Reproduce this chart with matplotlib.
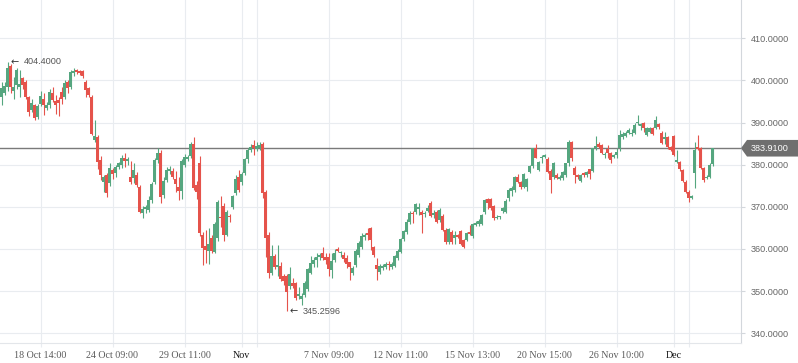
import numpy as np
import matplotlib.pyplot as plt
from matplotlib.patches import Polygon
from matplotlib.transforms import blended_transform_factory

# hourly candles
open_ = [
    396.0, 397.0, 398.4, 403.4, 397.5, 398.9, 398.5, 400.5, 399.6, 396.0,
    393.0, 394.1, 391.4, 394.4, 395.7, 393.4, 394.1, 397.0, 395.2, 395.3,
    397.3, 396.1, 399.6, 398.5, 401.7, 402.4, 402.2, 402.3, 399.6, 398.2,
    396.1, 385.9, 386.5, 381.1, 376.0, 377.5, 375.6, 378.8, 378.1, 379.5,
    379.9, 381.6, 380.8, 377.0, 376.8, 377.5, 374.8, 368.6, 369.4, 369.2,
    371.6, 376.0, 381.1, 382.8, 372.8, 376.4, 378.4, 378.6, 376.5, 374.8,
    373.8, 380.0, 381.4, 382.0, 384.9, 375.2, 380.5, 363.3, 360.6, 359.6,
    362.7, 359.4, 362.5, 367.6, 370.2, 363.3, 367.8, 369.9, 373.3, 377.1,
    375.9, 378.1, 381.3, 383.5, 384.7, 383.7, 384.0, 384.9, 373.6, 363.3,
    354.2, 358.3, 355.7, 356.0, 353.5, 353.6, 351.2, 351.9, 351.9, 348.8,
    348.1, 349.1, 350.4, 354.4, 356.5, 357.5, 358.0, 359.1, 358.0, 358.2,
    355.0, 357.4, 360.0, 359.0, 358.6, 357.8, 356.8, 354.4, 356.3, 358.6,
    360.4, 362.8, 363.9, 364.9, 360.4, 356.2, 354.6, 355.6, 355.7, 356.5,
    355.8, 356.0, 357.8, 359.4, 362.3, 364.1, 366.5, 368.6, 368.8, 369.5,
    368.8, 368.2, 369.0, 371.0, 368.0, 368.8, 366.9, 367.8, 364.5, 361.7,
    364.0, 362.6, 363.3, 364.3, 362.1, 362.1, 364.0, 363.0, 365.8, 365.9,
    366.0, 368.8, 371.8, 371.8, 370.2, 367.3, 367.5, 368.9, 368.8, 372.0,
    373.8, 374.0, 377.1, 375.9, 374.8, 374.6, 378.3, 379.7, 383.9, 378.8,
    381.6, 381.8, 381.3, 378.5, 377.0, 377.6, 376.7, 376.8, 377.6, 380.3,
    385.4, 379.3, 377.5, 376.2, 378.0, 377.5, 378.9, 378.6, 383.9, 384.9,
    384.6, 382.2, 383.7, 382.8, 381.9, 382.3, 383.9, 386.5, 386.8, 387.6,
    387.3, 387.6, 390.0, 389.2, 389.8, 387.0, 387.8, 388.6, 388.8, 389.6,
    387.6, 386.2, 386.5, 384.2, 386.8, 380.7, 380.7, 378.7, 376.0, 373.6,
    372.1, 378.1, 384.2, 383.9, 379.2, 376.9, 377.1, 380.2,
]
high = [
    399.6, 399.6, 404.4, 404.0, 400.8, 403.0, 402.4, 400.9, 400.0, 396.3,
    395.5, 394.5, 394.5, 397.5, 397.0, 395.0, 398.0, 398.5, 396.5, 396.0,
    398.5, 400.0, 400.2, 402.5, 402.9, 402.6, 402.5, 402.5, 400.0, 398.5,
    396.5, 390.6, 387.0, 382.0, 377.6, 378.0, 380.5, 379.2, 380.0, 380.7,
    382.2, 382.7, 381.8, 381.0, 380.3, 378.2, 375.2, 370.3, 370.5, 372.5,
    376.0, 381.5, 383.9, 383.5, 377.0, 379.5, 379.8, 379.3, 378.5, 377.0,
    381.3, 382.5, 382.2, 385.4, 386.6, 376.2, 382.0, 364.0, 364.5, 365.0,
    363.3, 366.5, 371.6, 372.6, 371.0, 369.2, 368.2, 372.8, 377.5, 378.7,
    378.2, 381.5, 384.0, 385.0, 385.8, 385.5, 385.5, 385.3, 374.0, 364.0,
    361.0, 358.8, 361.0, 357.0, 354.0, 354.0, 355.8, 353.0, 352.2, 351.0,
    349.5, 352.5, 355.5, 358.3, 358.0, 359.1, 359.0, 360.5, 359.0, 359.0,
    359.0, 360.0, 360.5, 359.5, 359.2, 358.5, 357.0, 356.0, 360.0, 362.0,
    363.8, 363.8, 364.9, 365.3, 360.8, 357.8, 356.5, 356.4, 356.8, 357.2,
    357.0, 358.5, 360.0, 362.5, 364.5, 367.0, 369.0, 368.9, 371.0, 370.8,
    369.3, 369.1, 370.5, 371.5, 369.2, 369.2, 369.8, 368.2, 365.0, 365.0,
    364.5, 364.3, 363.6, 364.6, 362.4, 364.0, 365.8, 366.2, 366.6, 367.0,
    368.3, 371.8, 372.0, 372.0, 370.5, 368.0, 367.9, 370.0, 371.8, 374.5,
    375.0, 377.3, 377.8, 376.2, 378.0, 376.8, 380.0, 384.0, 384.9, 381.0,
    382.3, 382.5, 381.8, 379.0, 380.6, 378.0, 377.6, 378.5, 380.5, 385.8,
    385.7, 379.6, 377.8, 377.8, 378.3, 378.6, 379.0, 384.0, 386.8, 385.3,
    385.0, 383.0, 384.6, 383.0, 382.6, 383.9, 388.3, 387.8, 388.0, 388.6,
    388.4, 389.8, 391.8, 389.8, 390.1, 389.0, 389.0, 389.0, 391.5, 390.0,
    388.0, 387.8, 386.8, 384.5, 387.0, 383.5, 381.0, 379.0, 376.3, 374.0,
    372.8, 385.4, 387.0, 384.2, 379.5, 377.5, 380.3, 384.0,
]
low = [
    394.1, 396.5, 397.5, 397.0, 395.7, 398.0, 396.0, 398.0, 395.5, 391.5,
    392.5, 390.5, 390.8, 394.0, 391.8, 392.9, 393.5, 394.8, 392.0, 391.5,
    394.5, 395.5, 397.0, 398.0, 401.0, 401.5, 401.3, 400.5, 396.0, 396.0,
    387.0, 385.3, 379.0, 376.4, 373.5, 372.3, 375.0, 376.5, 377.0, 379.0,
    379.2, 379.5, 380.0, 375.5, 375.6, 374.7, 368.5, 367.3, 368.5, 368.8,
    371.0, 375.5, 380.5, 370.9, 372.0, 376.0, 377.8, 376.7, 373.5, 371.6,
    371.8, 379.5, 381.0, 381.5, 374.0, 371.8, 363.0, 356.2, 356.7, 356.5,
    359.0, 359.0, 362.0, 365.3, 362.0, 363.0, 366.5, 369.5, 372.8, 373.5,
    375.2, 377.5, 380.5, 383.0, 382.3, 383.3, 383.5, 372.0, 358.0, 353.0,
    353.8, 355.2, 353.5, 352.5, 351.5, 345.2596, 350.5, 350.8, 347.8, 348.2,
    346.7, 348.5, 350.0, 354.0, 355.8, 355.8, 357.5, 357.5, 356.5, 353.5,
    353.1, 357.0, 359.3, 358.2, 357.0, 355.5, 352.7, 353.8, 355.8, 358.0,
    360.0, 362.2, 362.1, 359.8, 358.2, 352.7, 354.0, 354.9, 355.3, 355.0,
    355.3, 355.8, 357.5, 359.0, 361.8, 363.5, 366.0, 366.1, 368.3, 368.1,
    363.8, 367.5, 368.8, 367.5, 367.4, 366.2, 366.5, 364.3, 361.3, 361.2,
    361.2, 361.3, 362.5, 361.0, 360.2, 361.8, 363.4, 362.6, 365.5, 365.5,
    365.7, 368.4, 369.5, 369.2, 366.8, 367.0, 367.2, 368.5, 368.5, 371.5,
    372.5, 373.5, 375.6, 374.3, 374.5, 373.8, 378.0, 379.3, 381.5, 378.5,
    380.4, 381.5, 378.0, 373.3, 376.5, 376.6, 376.3, 376.4, 377.2, 379.8,
    381.0, 375.7, 376.5, 375.9, 377.2, 377.0, 376.5, 378.2, 383.5, 384.0,
    382.5, 381.5, 381.5, 380.5, 381.5, 381.5, 383.3, 386.0, 386.5, 387.3,
    386.8, 387.2, 389.5, 388.2, 387.8, 386.8, 387.6, 387.0, 388.4, 388.5,
    384.8, 385.0, 383.8, 383.2, 382.0, 380.5, 378.5, 375.8, 373.2, 371.2,
    371.8, 374.4, 383.5, 379.0, 376.0, 376.5, 376.8, 379.8,
]
close = [
    398.1, 398.6, 402.9, 398.5, 398.5, 402.4, 399.2, 398.8, 396.1, 392.5,
    394.6, 391.0, 393.9, 396.3, 394.1, 394.1, 397.3, 395.3, 394.2, 394.6,
    395.7, 399.3, 398.2, 402.0, 402.3, 402.0, 401.8, 401.0, 397.8, 396.5,
    387.4, 386.8, 380.6, 377.5, 377.0, 373.2, 379.2, 377.8, 379.5, 380.3,
    381.5, 380.8, 381.4, 375.8, 378.7, 375.2, 368.8, 369.5, 370.0, 371.6,
    375.4, 381.1, 382.8, 372.4, 376.1, 378.7, 379.0, 377.1, 375.4, 373.8,
    381.0, 381.8, 381.8, 384.9, 374.4, 373.6, 363.7, 360.2, 359.8, 361.2,
    359.6, 366.0, 371.2, 367.3, 363.3, 368.8, 367.5, 372.6, 376.5, 374.1,
    377.7, 381.3, 383.5, 384.2, 383.9, 384.4, 384.6, 373.2, 362.7, 354.2,
    358.3, 355.7, 356.3, 352.8, 352.3, 349.9, 354.1, 351.2, 348.3, 349.3,
    348.9, 351.9, 355.2, 356.6, 357.4, 358.0, 358.6, 357.8, 357.4, 355.2,
    357.2, 359.1, 359.6, 359.4, 357.6, 356.4, 355.8, 355.4, 359.5, 361.4,
    363.1, 363.3, 363.3, 362.2, 358.6, 355.2, 356.0, 356.0, 356.4, 356.2,
    356.5, 358.3, 359.6, 362.3, 364.3, 366.5, 368.6, 368.3, 370.6, 369.9,
    368.0, 368.6, 369.8, 367.8, 368.6, 366.5, 369.2, 364.5, 361.7, 364.7,
    361.7, 363.4, 362.8, 361.2, 360.4, 363.7, 363.6, 365.9, 366.2, 366.7,
    368.0, 371.6, 370.8, 369.7, 367.3, 367.7, 367.7, 369.7, 371.4, 374.1,
    374.4, 377.1, 375.9, 374.6, 377.8, 376.5, 379.7, 383.9, 381.7, 380.6,
    381.9, 382.2, 378.3, 376.4, 380.3, 376.9, 377.2, 378.2, 380.3, 385.4,
    381.5, 377.5, 377.1, 377.5, 377.6, 378.2, 377.8, 383.9, 384.5, 384.3,
    382.7, 382.5, 382.7, 381.1, 382.4, 383.1, 387.0, 387.3, 387.6, 388.2,
    387.6, 389.4, 390.2, 389.6, 388.8, 388.8, 388.6, 387.4, 390.6, 389.0,
    385.2, 386.6, 384.2, 383.6, 382.3, 381.1, 378.9, 376.2, 373.6, 372.0,
    372.6, 383.6, 383.8, 379.2, 376.4, 377.1, 380.0, 383.91,
]

y_ticks = [340, 350, 360, 370, 380, 390, 400, 410]
x_tick_pos = [13, 37, 61, 80, 85, 109, 133, 157, 181, 205, 224, 229]
x_tick_labels = ["18 Oct 14:00", "24 Oct 09:00", "29 Oct 11:00", "Nov", "",
                 "7 Nov 09:00", "12 Nov 11:00", "15 Nov 13:00", "20 Nov 15:00",
                 "26 Nov 10:00", "Dec", ""]
last_price = 383.91

green = '#55a67f'
red = '#e5534b'
grid_col = '#e9ecf0'
label_font = ['Liberation Sans', 'DejaVu Sans']

o = np.array(open_)
h = np.array(high)
l = np.array(low)
c = np.array(close)
x = np.arange(len(o))
colors = np.where(c >= o, green, red)

fig = plt.figure(figsize=(7.98, 3.63), dpi=100)
ax = fig.add_axes([0, 20 / 363, 741 / 798, 343 / 363])

# wicks and bodies
ax.vlines(x, l, h, colors=colors, lw=0.8, zorder=3)
body_bottom = np.minimum(o, c)
body_h = np.maximum(np.abs(c - o), 0.25)
ax.bar(x, body_h, bottom=body_bottom, width=0.72, color=colors, lw=0, zorder=4)

# last price line
ax.axhline(last_price, color='#7a7a7a', lw=1.0, zorder=2)

# price tag on the right axis
tr = blended_transform_factory(fig.transFigure, ax.transData)
dy = 1.97
tag = Polygon([(741 / 798, last_price), (747 / 798, last_price + dy), (1, last_price + dy),
               (1, last_price - dy), (747 / 798, last_price - dy)],
              closed=True, transform=tr, facecolor='#6f6f6f', edgecolor='none',
              zorder=10, clip_on=False)
ax.add_patch(tag)
ax.text(750.7 / 798, last_price, f"{last_price:.4f}", transform=tr, ha='left', va='center',
        color='white', fontsize=6.6, family=label_font, zorder=11, clip_on=False)

ax.set_xlim(-0.5, 246.5)
ax.set_ylim(337.69, 419.09)

# axes styling
ax.yaxis.tick_right()
ax.set_yticks(y_ticks)
ax.set_yticklabels([f"{v:.4f}" for v in y_ticks], family=label_font, fontsize=6.6)
ax.tick_params(axis='y', length=3, width=0.8, color='#d3d7dc', labelcolor='#666666', pad=4)

ax.set_xticks(x_tick_pos)
ax.set_xticklabels(x_tick_labels, family='Liberation Serif', fontsize=7.2)
ax.tick_params(axis='x', length=3, width=0.8, color=grid_col, labelcolor='#5a5a5a', pad=3)
for lab in ax.get_xticklabels():
    if lab.get_text() in ('Nov', 'Dec'):
        lab.set_color('#111111')

ax.grid(True, color=grid_col, lw=0.8)
ax.set_axisbelow(True)
for side in ('top', 'left'):
    ax.spines[side].set_visible(False)
ax.spines['right'].set_color('#d3d7dc')
ax.spines['right'].set_linewidth(0.8)
ax.spines['bottom'].set_color('#e3e6ea')
ax.spines['bottom'].set_linewidth(0.8)

# high / low markers: arrow plus value
imax = int(np.argmax(h))
imin = int(np.argmin(l))
for idx, val in ((imax, h[imax]), (imin, l[imin])):
    ax.annotate("\u2190", xy=(idx, val), xytext=(2.3, 0), textcoords='offset points',
                ha='left', va='center', fontsize=7, color='#333333',
                family='DejaVu Sans', zorder=6)
    ax.annotate(f"{val:.4f}", xy=(idx, val), xytext=(11.5, 0), textcoords='offset points',
                ha='left', va='center', fontsize=6.6, color='#555555',
                family=label_font, zorder=6)

fig.savefig('out.png', dpi=100)
